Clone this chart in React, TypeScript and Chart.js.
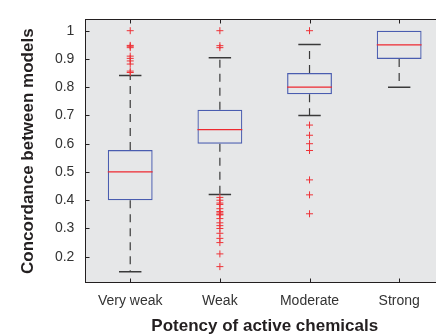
import React, { useEffect, useRef } from 'react';
import { Chart, registerables } from 'chart.js';

Chart.register(...registerables);

// ---- data ----
const CATEGORIES = ['Very weak', 'Weak', 'Moderate', 'Strong'];
const Q1 = [0.4, 0.6, 0.775, 0.9];
const MEDIAN = [0.5, 0.65, 0.8, 0.95];
const Q3 = [0.578, 0.72, 0.85, 1.0];
const WHISKER_LOW = [0.147, 0.42, 0.7, 0.8];
const WHISKER_HIGH = [0.841, 0.904, 0.951, 1.0];
const OUTLIERS_VERY_WEAK = [1.0, 0.948, 0.945, 0.94, 0.91, 0.902, 0.893, 0.882, 0.857, 0.852];
const OUTLIERS_WEAK = [
  1.0, 0.947, 0.94, 0.41, 0.4, 0.39, 0.385, 0.37, 0.36, 0.355, 0.35, 0.348, 0.335, 0.32, 0.31,
  0.3, 0.283, 0.265, 0.25, 0.21, 0.165,
];
const OUTLIERS_MODERATE = [1.0, 0.666, 0.63, 0.6, 0.576, 0.472, 0.419, 0.352];
const OUTLIERS_STRONG: number[] = [];
const OUTLIERS = [OUTLIERS_VERY_WEAK, OUTLIERS_WEAK, OUTLIERS_MODERATE, OUTLIERS_STRONG];
const Y_TICKS = [0.2, 0.3, 0.4, 0.5, 0.6, 0.7, 0.8, 0.9, 1];
const Y_MIN = 0.107;
const Y_MAX = 1.04;
const X_MIN = 0.5;
const X_MAX = 4.5;

// ---- styles ----
const FONT = "'Liberation Sans', Arial, Helvetica, sans-serif";
const BG = '#e6e7e8';
const AXIS = '#231f20';
const BOX = '#4a5db0';
const MED = '#ee2a30';
const WHISK = '#3a3a3a';
const OUT = '#ee3338';
const BOX_HALF = 0.25;
const CAP_HALF = 0.125;

type P = { x: number; y: number | null };
const seg = (x1: number, y1: number, x2: number, y2: number): P[] => [
  { x: x1, y: y1 },
  { x: x2, y: y2 },
  { x: x2, y: null },
];

const framePlugin = {
  id: 'frame',
  beforeDraw(chart: any) {
    const { ctx, chartArea: a } = chart;
    ctx.save();
    ctx.fillStyle = BG;
    ctx.fillRect(a.left, a.top, a.right - a.left, a.bottom - a.top);
    ctx.restore();
  },
  afterDraw(chart: any) {
    const { ctx, chartArea: a, scales } = chart;
    const L = Math.round(a.left) + 0.5;
    const T = Math.round(a.top) + 0.5;
    const B = Math.round(a.bottom) - 0.5;
    const R = Math.round(a.right) - 0.5;
    ctx.save();
    ctx.strokeStyle = AXIS;
    ctx.lineWidth = 1;
    ctx.strokeRect(L, T, R - L, B - T);
    ctx.beginPath();
    for (const v of Y_TICKS) {
      const y = Math.round(scales.y.getPixelForValue(v)) + 0.5;
      ctx.moveTo(L, y);
      ctx.lineTo(L + 4, y);
      ctx.moveTo(R, y);
      ctx.lineTo(R - 4, y);
    }
    CATEGORIES.forEach((_, i) => {
      const x = Math.round(scales.x.getPixelForValue(i + 1)) + 0.5;
      ctx.moveTo(x, B);
      ctx.lineTo(x, B - 4);
      ctx.moveTo(x, T);
      ctx.lineTo(x, T + 4);
    });
    ctx.stroke();
    ctx.restore();
  },
};

export default function App() {
  const ref = useRef<HTMLCanvasElement>(null);

  useEffect(() => {
    document.body.style.margin = '0';
    const canvas = ref.current;
    if (!canvas) return;

    const pos = CATEGORIES.map((_, i) => i + 1);
    const boxes = pos.map((x, i) => ({ x, y: [Q1[i], Q3[i]] }));
    const medians = pos.flatMap((x, i) => seg(x - BOX_HALF, MEDIAN[i], x + BOX_HALF, MEDIAN[i]));
    const whiskers = pos.flatMap((x, i) => [
      ...seg(x, Q3[i], x, WHISKER_HIGH[i]),
      ...seg(x, Q1[i], x, WHISKER_LOW[i]),
    ]);
    const caps = pos.flatMap((x, i) => [
      ...(WHISKER_HIGH[i] > Q3[i]
        ? seg(x - CAP_HALF, WHISKER_HIGH[i], x + CAP_HALF, WHISKER_HIGH[i])
        : []),
      ...(WHISKER_LOW[i] < Q1[i]
        ? seg(x - CAP_HALF, WHISKER_LOW[i], x + CAP_HALF, WHISKER_LOW[i])
        : []),
    ]);
    const outliers = pos.flatMap((x, i) => OUTLIERS[i].map((y) => ({ x, y })));

    const chart = new Chart(canvas, {
      type: 'bar',
      data: {
        datasets: [
          {
            type: 'scatter',
            data: outliers,
            pointStyle: 'cross',
            pointRadius: 3.5,
            pointBorderWidth: 1,
            borderColor: OUT,
            backgroundColor: OUT,
            order: 0,
          } as any,
          {
            type: 'line',
            data: medians,
            borderColor: MED,
            borderWidth: 1.2,
            pointRadius: 0,
            spanGaps: false,
            order: 1,
          } as any,
          {
            type: 'bar',
            data: boxes,
            backgroundColor: 'rgba(0,0,0,0)',
            borderColor: BOX,
            borderWidth: 1.2,
            borderSkipped: false,
            categoryPercentage: 1,
            barPercentage: 0.5,
            order: 2,
          } as any,
          {
            type: 'line',
            data: caps,
            borderColor: WHISK,
            borderWidth: 1.5,
            pointRadius: 0,
            spanGaps: false,
            order: 3,
          } as any,
          {
            type: 'line',
            data: whiskers,
            borderColor: WHISK,
            borderWidth: 1.2,
            borderDash: [8, 6],
            pointRadius: 0,
            spanGaps: false,
            order: 4,
          } as any,
        ],
      },
      options: {
        responsive: false,
        animation: false,
        devicePixelRatio: 1,
        layout: { padding: { top: 12, right: 8, bottom: 0, left: 0 } },
        plugins: { legend: { display: false }, tooltip: { enabled: false } },
        scales: {
          x: {
            type: 'linear',
            min: X_MIN,
            max: X_MAX,
            offset: false,
            grid: { display: false, drawTicks: false },
            border: { display: false },
            afterBuildTicks: (s: any) => {
              s.ticks = CATEGORIES.map((_, i) => ({ value: i + 1 }));
            },
            afterFit: (s: any) => {
              s.height = 52;
            },
            ticks: {
              padding: 10,
              color: '#333',
              font: { family: FONT, size: 14 },
              callback: (v: any) => CATEGORIES[Math.round(Number(v)) - 1] ?? '',
              maxRotation: 0,
              autoSkip: false,
            },
            title: {
              display: true,
              text: 'Potency of active chemicals',
              color: AXIS,
              font: { family: FONT, size: 17, weight: 'bold', lineHeight: 1 },
              padding: 0,
            },
          },
          y: {
            type: 'linear',
            min: Y_MIN,
            max: Y_MAX,
            grid: { display: false, drawTicks: false },
            border: { display: false },
            afterBuildTicks: (s: any) => {
              s.ticks = Y_TICKS.map((v) => ({ value: v }));
            },
            afterFit: (s: any) => {
              s.width = 85.4;
            },
            ticks: {
              padding: 11,
              color: '#333',
              font: { family: FONT, size: 14 },
              callback: (v: any) => String(v),
            },
            title: {
              display: true,
              text: 'Concordance between models',
              color: AXIS,
              font: { family: FONT, size: 17, weight: 'bold', lineHeight: 1 },
              padding: { top: 20, bottom: 0 },
            },
          },
        },
      },
      plugins: [framePlugin],
    } as any);

    return () => chart.destroy();
  }, []);

  return (
    <div style={{ width: 436, height: 335, overflow: 'hidden' }}>
      <canvas ref={ref} width={452} height={335} style={{ display: 'block' }} />
    </div>
  );
}
